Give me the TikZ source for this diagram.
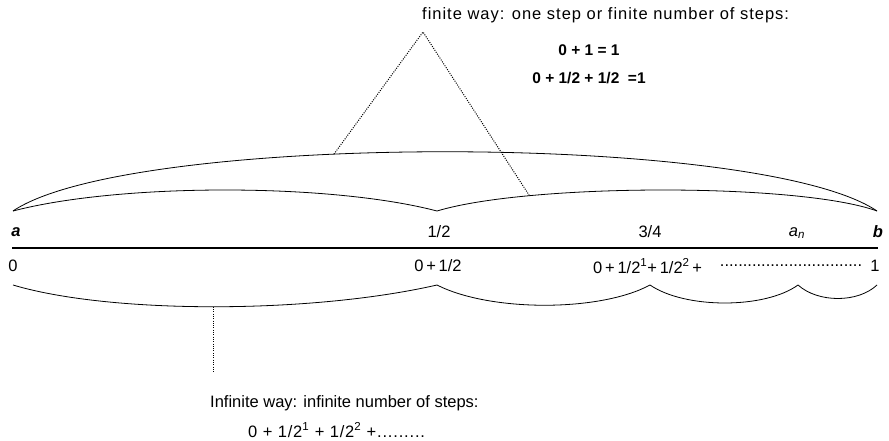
\documentclass[tikz,border=0pt]{standalone}
\usepackage{fontspec}
\setmainfont{Liberation Sans}
\usetikzlibrary{positioning,calc}

\begin{document}
\begin{tikzpicture}[x=1pt, y=-1pt, font=\fontsize{16.5}{19}\selectfont,
      lbl/.style={inner sep=0pt},
      eq/.style={inner sep=0pt, font=\fontsize{15.5}{18}\selectfont\bfseries},
      curva/.style={line width=0.8pt},
      guia/.style={line width=1pt, dash pattern=on 1pt off 1.3pt}]
    \useasboundingbox (0,0) rectangle (889,441);
    % recta de a a b
    \coordinate (ini) at (12,248);
    \coordinate (fin) at (878,248);
    \draw[line width=1.6pt] (ini) -- (fin);
    \node[lbl] (a) at (16,232) {\textbf{\textit{a}}};
    \node[lbl] (mitad) at (439,232) {1/2};
    \node[lbl] (tres) at (650,232) {3/4};
    \node[lbl] (an) at (797,233) {\textit{a}\textsubscript{\textit{n}}};
    \node[lbl] (b) at (878,232) {\textbf{\textit{b}}};
    \node[lbl] (cero) at (13,266) {0};
    \node[lbl] (suma1) at (438,266) {0\,+\,1/2};
    \node[lbl, anchor=west] (suma2) at (593,266) {0\,+\,1/2\textsuperscript{1}+\,1/2\textsuperscript{2}\,+};
    \node[lbl] (puntos) at (791,266) {...............................};
    \node[lbl] (uno) at (875,266) {1};
    % arcos de arriba
    \coordinate (pa) at (13,211);
    \coordinate (pm) at (437,211);
    \coordinate (pb) at (877,211);
    \draw[curva] (pa) .. controls (130,132) and (760,132) .. (pb) coordinate[pos=0.4] (ext);
    \draw[curva] (pa) .. controls (120,183) and (330,183) .. (pm);
    \draw[curva] (pm) .. controls (530,183) and (800,183) .. (pb) coordinate[pos=0.24] (int);
    % arcos de abajo
    \coordinate (qa) at (13,285);
    \coordinate (q1) at (437,285);
    \coordinate (q2) at (650,285);
    \coordinate (q3) at (798,285);
    \coordinate (qb) at (877,285);
    \draw[curva] (qa) .. controls (110,314) and (310,314) .. (q1) coordinate[pos=0.5] (inf);
    \draw[curva] (q1) .. controls (490,312) and (600,312) .. (q2);
    \draw[curva] (q2) .. controls (685,309) and (765,309) .. (q3);
    \draw[curva] (q3) .. controls (818,303) and (858,303) .. (qb);
    % textos
    \coordinate (cima) at (423,32);
    \draw[guia] (ext) -- (cima) -- (int);
    \coordinate (pie) at ($(inf)+(0,65)$);
    \draw[guia] (inf) -- (pie);
    \node[lbl, anchor=west] (finito) at (422,15) {\addfontfeatures{LetterSpace=6}finite way: one step or finite number of steps:};
    \node[eq] (eq1) at (589,50) {0 + 1 = 1};
    \node[eq] (eq2) at (589,78) {0 + 1/2 + 1/2\ \ =1};
    \node[lbl, anchor=west] (infinito) at (210,403) {Infinite way: infinite number of steps:};
    \node[lbl, anchor=west] (serie) at (248,430) {\addfontfeatures{LetterSpace=5}0 + 1/2\textsuperscript{1} + 1/2\textsuperscript{2} +.........};
  \end{tikzpicture}
\end{document}
